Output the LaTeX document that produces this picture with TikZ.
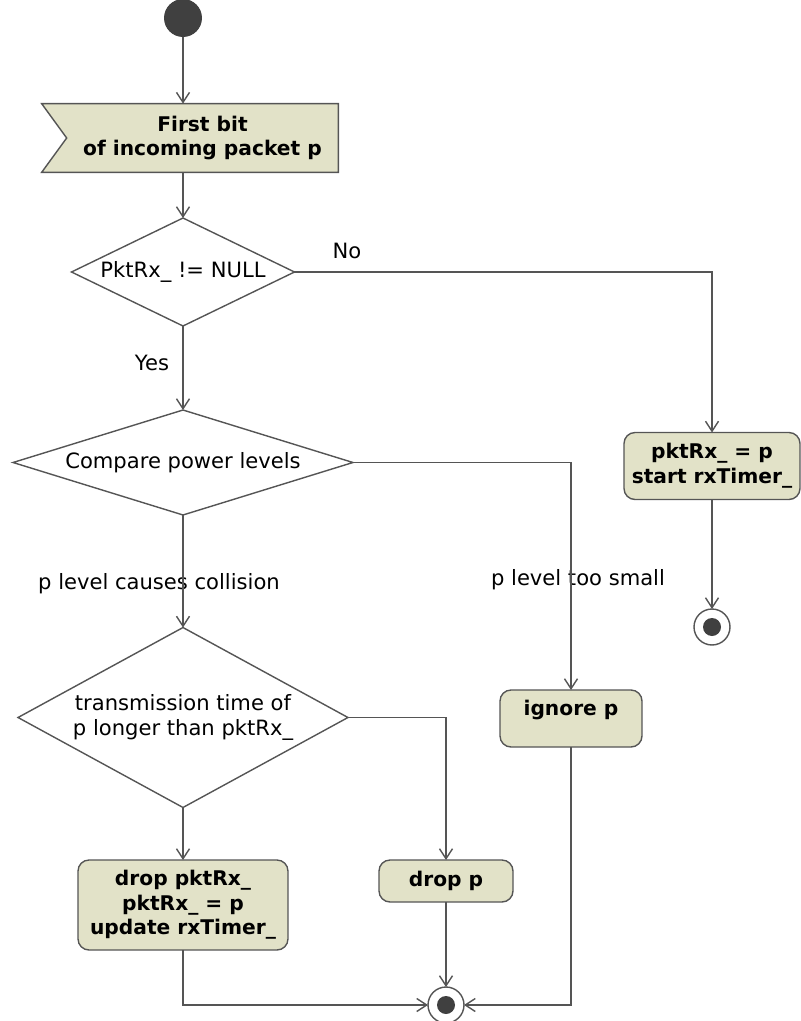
\documentclass[tikz,border=0pt]{standalone}
\usepackage{fontspec}
\setmainfont{DejaVu Sans}
\usetikzlibrary{calc,arrows.meta,shapes.geometric,backgrounds}
\definecolor{actfill}{RGB}{226,226,200}
\definecolor{edgegray}{RGB}{85,85,85}
\definecolor{dotgray}{RGB}{64,64,64}
\tikzset{
	flow/.style={draw=edgegray, line width=0.8pt, -{Straight Barb[length=2mm,width=2.6mm]}},
	action/.style={rectangle, rounded corners=0.22cm, draw=edgegray, line width=0.8pt, fill=actfill, align=center, inner sep=0pt, outer sep=0pt, font=\fontsize{11.5}{14}\selectfont\bfseries},
	decision/.style={diamond, draw=edgegray, line width=0.8pt, align=center, inner sep=0pt, outer sep=0pt, font=\fontsize{12}{14}\selectfont},
	guard/.style={inner sep=0pt, font=\fontsize{12}{14}\selectfont},
	final/.style={circle, draw=edgegray, line width=0.8pt, fill=white, minimum size=0.72cm, inner sep=0pt, outer sep=0pt,
		path picture={\fill[dotgray] (path picture bounding box.center) circle (0.18cm);}}
}

\begin{document}
\begin{tikzpicture}[x=0.02cm, y=-0.02cm]
			%%%%% START %%%%%
			\useasboundingbox (0,0) rectangle (801,1021);
			
			\node[circle, fill=dotgray, minimum size=0.76cm, inner sep=0pt, outer sep=0pt] (init) at (183,18) {};
			
			% signal receipt, notch on the left
			\node[align=center, inner sep=0pt, minimum width=5.42cm, minimum height=1.36cm, font=\fontsize{11.5}{14}\selectfont\bfseries] (sig) at (202.5,138) {First bit\\of incoming packet p};
			\begin{scope}[on background layer]
				\draw[draw=edgegray, fill=actfill, line width=0.8pt] ($(sig.north west)+(-25,0)$) -- (sig.north east) -- (sig.south east) -- ($(sig.south west)+(-25,0)$) -- (sig.west) -- cycle;
			\end{scope}
			
			\node[decision, aspect=2, minimum width=4.46cm, minimum height=2.16cm] (notnull) at (183,272) {PktRx\_ != NULL};
			\node[decision, aspect=3, minimum width=6.8cm, minimum height=2.1cm] (power) at (183,462.5) {Compare power levels};
			\node[decision, aspect=2, minimum width=6.6cm, minimum height=3.6cm] (longer) at (183,717.5) {transmission time of\\p longer than pktRx\_};
			
			\node[action, minimum width=3.52cm, minimum height=1.34cm] (start) at (712,466) {pktRx\_ = p\\start rxTimer\_};
			\node[action, minimum width=2.84cm, minimum height=1.14cm, text height=0.33cm, text depth=0.45cm] (ignore) at (571,718.5) {ignore p};
			\node[action, minimum width=4.2cm, minimum height=1.8cm] (dropold) at (183,905) {drop pktRx\_\\pktRx\_ = p\\update rxTimer\_};
			\node[action, minimum width=2.68cm, minimum height=0.84cm] (dropnew) at (446,881) {drop p};
			
			\node[final] (endstart) at (712,627) {};
			\node[final] (enddrop) at (446,1005) {};
			
			% guards
			\node[guard] (gno) at (347,251) {No};
			\node[guard] (gyes) at (152,363) {Yes};
			\node[guard] (gcoll) at (159,584) {p level causes collision};
			\node[guard] (gsmall) at (578,580) {p level too small};
			
			% flows
			\draw[flow] (init) -- (init |- sig.north);
			\draw[flow] (init |- sig.south) -- (notnull);
			\draw[flow] (notnull.east) -| (start);
			\draw[flow] (notnull) -- (power);
			\draw[flow] (power.east) -| (ignore);
			\draw[flow] (power) -- (longer);
			\draw[flow] (longer.east) -| (dropnew);
			\draw[flow] (longer) -- (dropold);
			\draw[flow] (start) -- (endstart);
			\draw[flow] (dropold) |- (enddrop);
			\draw[flow] (dropnew) -- (enddrop);
			\draw[flow] (ignore) |- (enddrop);
			%%%%% END %%%%%
\end{tikzpicture}
\end{document}
